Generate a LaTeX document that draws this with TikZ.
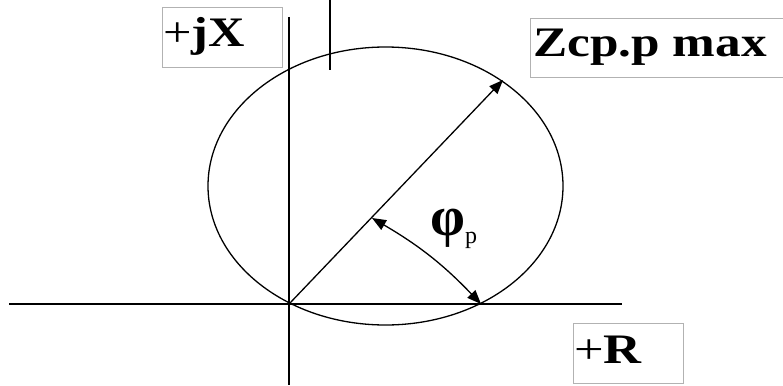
\documentclass[tikz,border=0pt]{standalone}
\usepackage{fontspec}
\setmainfont{Liberation Serif}
\usetikzlibrary{arrows.meta}
\begin{document}
\begin{tikzpicture}[x=1pt,y=-1pt,
  axis/.style={line width=2pt,black},
  thinline/.style={line width=1.3pt,black},
  box/.style={draw=black!30,line width=1pt,inner sep=0pt,anchor=north west},
  lbl/.style={inner sep=0pt,anchor=base west,font=\fontsize{42}{46}\selectfont},
  tip/.style={Triangle[length=13pt,width=10pt]}]
\useasboundingbox (0,0) rectangle (783,385);
% label boxes
\node[box,minimum width=120pt,minimum height=60pt] (jxbox) at (162,7) {};
\node[lbl] (jx) at (163,47) {\scalebox{1.2}[1]{+\textbf{jX}}};
\node[box,minimum width=260pt,minimum height=59pt] (zbox) at (530,18) {};
\node[lbl] (z) at (533,57) {\scalebox{1.22}[1]{\textbf{Zcp.p max}}};
\node[box,minimum width=110pt,minimum height=60pt] (rbox) at (573,323) {};
\node[lbl] (r) at (574,363) {\scalebox{1.25}[1]{+\textbf{R}}};
% axes
\coordinate (vtop) at (289,17);
\coordinate (vbot) at (289,385);
\coordinate (hl) at (9,304);
\coordinate (hr) at (622,304);
\draw[axis] (vtop) -- (vbot);
\draw[axis] (hl) -- (hr);
\coordinate (st) at (330,0);
\coordinate (sb) at (330,70);
\draw[axis] (st) -- (sb);
% ellipse
\coordinate (C) at (385.5,186);
\draw[thinline] (C) ellipse [x radius=177.5pt, y radius=139pt];
% diameter
\coordinate (O) at (290,303);
\coordinate (D) at (503,80);
\draw[thinline,-{Triangle[length=14pt,width=11pt]}] (O) -- (D);
% angle arrow
\coordinate (A1) at (372,218);
\coordinate (A2) at (481,304);
\draw[thinline,{Triangle[length=14pt,width=11pt]}-{Triangle[length=14pt,width=11pt]}] (A1) to[bend left=8] (A2);
\node[inner sep=0pt,anchor=base west,font=\fontsize{56}{60}\selectfont] (phi) at (430,235) {\textbf{φ}\raisebox{-8pt}{\fontsize{24}{26}\selectfont p}};
\end{tikzpicture}
\end{document}
